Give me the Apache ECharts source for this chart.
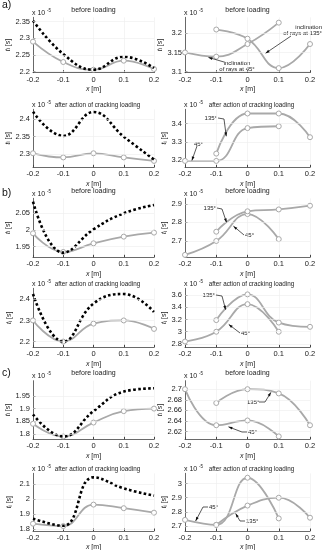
<!DOCTYPE html>
<html><head><meta charset="utf-8">
<script src="https://cdn.jsdelivr.net/npm/echarts@6/dist/echarts.min.js"></script>
<style>html,body{margin:0;padding:0;background:#fff}#c{width:330px;height:550px}</style>
</head><body><div id="c"></div>
<script>
// ---------- data ----------
const xValues = [-0.2, -0.1, 0, 0.1, 0.2];
const panelLetters = ['a)', 'b)', 'c)'];
const titleBefore = 'before loading';
const titleAfter = 'after action of cracking loading';

// a) left (dotted black / grey with markers)
const aBeforeBlack = [2.353, 2.253, 2.206, 2.245, 2.211];
const aBeforeGray  = [2.290, 2.229, 2.206, 2.233, 2.208];
const aAfterBlack  = [2.422, 2.352, 2.421, 2.350, 2.284];
const aAfterGray   = [2.302, 2.290, 2.302, 2.290, 2.280];
// a) right (ray inclination 45 / 135 deg)
const aBefore45  = [3.150, 3.139, 3.172, 3.228, null];
const aBefore135 = [null, 3.210, 3.186, 3.109, 3.172];
const aAfter45   = [3.195, 3.195, 3.375, 3.385, null];
const aAfter135  = [null, 3.235, 3.455, 3.455, 3.325];

// b)
const bBeforeBlack = [2.085, 1.932, 2.002, 2.050, 2.075];
const bBeforeGray  = [1.990, 1.934, 1.960, 1.980, 1.992];
const bAfterBlack  = [2.425, 2.200, 2.380, 2.425, 2.340];
const bAfterGray   = [2.300, 2.200, 2.285, 2.300, 2.260];
const bBefore45  = [2.625, 2.700, 2.845, 2.710, null];
const bBefore135 = [null, 2.750, 2.860, 2.870, 2.890];
const bAfter45   = [2.840, 3.000, 3.450, 3.000, null];
const bAfter135  = [null, 3.190, 3.610, 3.150, 3.080];

// c)
const cBeforeBlack = [1.877, 1.790, 1.890, 1.967, 1.980];
const cBeforeGray  = [1.840, 1.790, 1.845, 1.890, 1.900];
const cAfterBlack  = [1.870, 1.822, 2.147, 2.073, 2.024];
const cAfterGray   = [1.836, 1.820, 1.964, 1.940, 1.910];
const cBefore45  = [2.700, 2.632, 2.641, 2.611, null];
const cBefore135 = [null, 2.674, 2.700, 2.692, 2.632];
const cAfter45   = [2.745, 2.710, 3.040, 2.755, null];
const cAfter135  = [null, 2.710, 2.845, 2.900, 2.760];

// tick labels (x 10^-5 s)
const aBeforeLeftTicks  = [2.2, 2.25, 2.3, 2.35];
const aBeforeRightTicks = [3.1, 3.15, 3.2];
const aAfterLeftTicks   = [2.3, 2.35, 2.4];
const aAfterRightTicks  = [3.2, 3.3, 3.4];
const bBeforeLeftTicks  = [1.95, 2, 2.05];
const bBeforeRightTicks = [2.7, 2.8, 2.9];
const bAfterLeftTicks   = [2.2, 2.3, 2.4];
const bAfterRightTicks  = [2.8, 3, 3.2, 3.4, 3.6];
const cBeforeLeftTicks  = [1.8, 1.85, 1.9, 1.95];
const cBeforeRightTicks = [2.62, 2.64, 2.66, 2.68, 2.7];
const cAfterLeftTicks   = [1.8, 1.9, 2, 2.1];
const cAfterRightTicks  = [2.7, 2.8, 2.9, 3];

// y ranges
const yRanges = {
  a1L: [2.197, 2.363], a1R: [3.097, 3.242], a2L: [2.2615, 2.429], a2R: [3.16, 3.478],
  b1L: [1.918, 2.095], b1R: [2.612, 2.93], b2L: [2.173, 2.452], b2R: [2.746, 3.709],
  c1L: [1.779, 2.01], c1R: [2.6055, 2.716], c2L: [1.787, 2.174], c2R: [2.667, 3.071]
};

// ---------- layout ----------
const colLeft = [33, 185];
const colWidth = [121, 125];
const rowTop = [17.3, 109.3, 198.3, 288.3, 380.7, 473.3];
const rowBottom = [72.7, 167.3, 257.3, 347.3, 439.3, 531];
const FONT = 'Liberation Sans, Arial, sans-serif';
const GRAY = '#a9a9a9';

const panels = [
  {id:'a1L', row:0, col:0, title:titleBefore, ticks:aBeforeLeftTicks, lines:[['g',aBeforeGray],['k',aBeforeBlack]]},
  {id:'a1R', row:0, col:1, title:titleBefore, ticks:aBeforeRightTicks, lines:[['g',aBefore45],['g',aBefore135]]},
  {id:'a2L', row:1, col:0, title:titleAfter, ticks:aAfterLeftTicks, lines:[['g',aAfterGray],['k',aAfterBlack]]},
  {id:'a2R', row:1, col:1, title:titleAfter, ticks:aAfterRightTicks, lines:[['g',aAfter45],['g',aAfter135]]},
  {id:'b1L', row:2, col:0, title:titleBefore, ticks:bBeforeLeftTicks, lines:[['g',bBeforeGray],['k',bBeforeBlack]]},
  {id:'b1R', row:2, col:1, title:titleBefore, ticks:bBeforeRightTicks, lines:[['g',bBefore45],['g',bBefore135]]},
  {id:'b2L', row:3, col:0, title:titleAfter, ticks:bAfterLeftTicks, lines:[['g',bAfterGray],['k',bAfterBlack]]},
  {id:'b2R', row:3, col:1, title:titleAfter, ticks:bAfterRightTicks, lines:[['g',bAfter45],['g',bAfter135]]},
  {id:'c1L', row:4, col:0, title:titleBefore, ticks:cBeforeLeftTicks, lines:[['g',cBeforeGray],['k',cBeforeBlack]]},
  {id:'c1R', row:4, col:1, title:titleBefore, ticks:cBeforeRightTicks, lines:[['g',cBefore45],['g',cBefore135]]},
  {id:'c2L', row:5, col:0, title:titleAfter, ticks:cAfterLeftTicks, lines:[['g',cAfterGray],['k',cAfterBlack]]},
  {id:'c2R', row:5, col:1, title:titleAfter, ticks:cAfterRightTicks, lines:[['g',cAfter45],['g',cAfter135]]}
];

// annotations: text block position (px), leader points (px), target on curve (data)
const annotations = [
  {id:'a1R', lines:['inclination','of rays at 135°'], x:322, y:27, align:'right', lead:[[291,36]], target:[0.058, 3.148]},
  {id:'a1R', lines:['inclination','of rays at 45°'], x:237, y:63, align:'center', lead:[[224,62]], target:[-0.125, 3.137]},
  {id:'a2R', lines:['135°'], x:217, y:118, align:'right', lead:[[218,118],[224,119]], target:[-0.068, 3.33]},
  {id:'a2R', lines:['45°'], x:203, y:144, align:'right', lead:[[197,146]], target:[-0.178, 3.197]},
  {id:'b1R', lines:['135°'], x:216, y:208, align:'right', lead:[[217,208],[222,209]], target:[-0.067, 2.80]},
  {id:'b1R', lines:['45°'], x:245, y:235, align:'left', lead:[[244,235]], target:[-0.045, 2.78]},
  {id:'b2R', lines:['135°'], x:215, y:295, align:'right', lead:[[216,295],[222,296]], target:[-0.07, 3.36]},
  {id:'b2R', lines:['45°'], x:241, y:333, align:'left', lead:[[240,333]], target:[-0.06, 3.12]},
  {id:'c1R', lines:['135°'], x:247, y:402, align:'left', lead:[[259,402],[265,402]], target:[0.075, 2.694]},
  {id:'c1R', lines:['45°'], x:248, y:432, align:'left', lead:[[247,432],[242,432]], target:[-0.061, 2.629]},
  {id:'c2R', lines:['45°'], x:209, y:507, align:'left', lead:[[208,507],[203,507]], target:[-0.166, 2.737]},
  {id:'c2R', lines:['135°'], x:246, y:521, align:'left', lead:[[245,521],[240,521]], target:[-0.038, 2.79]}
];

// ---------- build ----------
const fmt = v => String(+(+v).toFixed(3));
const grid = [], xAxis = [], yAxis = [], series = [], graphic = [];

panels.forEach((p, i) => {
  const top = rowTop[p.row], bottom = rowBottom[p.row];
  const left = colLeft[p.col], width = colWidth[p.col];
  const yr = yRanges[p.id];
  const isAfter = p.row % 2 === 1;
  grid.push({left, top, width, height: bottom - top, outerBoundsMode: 'none', containLabel: false});
  xAxis.push({
    type: 'value', gridIndex: i, min: -0.2, max: 0.2, interval: 0.1,
    name: '{i|x} [m]', nameLocation: 'middle', nameGap: 13,
    nameTextStyle: {fontSize: 7, fontFamily: FONT, color: '#222', rich: {i: {fontStyle: 'italic', fontSize: 7, fontFamily: FONT}}},
    axisLine: {onZero: false, lineStyle: {color: '#444', width: 0.8}},
    axisTick: {inside: true, length: 2.5, lineStyle: {color: '#444'}},
    axisLabel: {fontSize: 7.5, fontFamily: FONT, color: '#222', margin: 3, formatter: fmt, showMinLabel: true, showMaxLabel: true},
    splitLine: {show: true, lineStyle: {color: '#ececec', width: 0.6}}
  });
  yAxis.push({
    type: 'value', gridIndex: i, min: yr[0], max: yr[1],
    name: '{t|t}{s|i} [s]', nameLocation: 'middle', nameRotate: 90, nameGap: p.col === 0 ? 20 : 16,
    nameTextStyle: {fontSize: 7, fontFamily: FONT, color: '#222', rich: {t: {fontStyle: 'italic', fontSize: 7, fontFamily: FONT}, s: {fontSize: 5, fontFamily: FONT, verticalAlign: 'bottom'}}},
    axisLine: {show: true, onZero: false, lineStyle: {color: '#444', width: 0.8}},
    axisTick: {inside: true, length: 2.5, customValues: p.ticks, lineStyle: {color: '#444'}},
    axisLabel: {fontSize: 7.5, fontFamily: FONT, color: '#222', margin: 3, customValues: p.ticks, formatter: fmt},
    splitLine: {show: false}
  });
  p.lines.forEach(([kind, arr], j) => {
    const data = [];
    xValues.forEach((x, k) => { if (arr[k] != null) data.push([x, arr[k]]); });
    const s = {
      type: 'line', xAxisIndex: i, yAxisIndex: i, data, smooth: 0.45, silent: true, animation: false
    };
    if (kind === 'k') {
      Object.assign(s, {showSymbol: false, symbol: 'none', z: 4,
        lineStyle: {color: '#000', width: 2.6, type: [2.6, 2.4], cap: 'butt'}});
    } else {
      Object.assign(s, {symbol: 'circle', symbolSize: 5, showSymbol: true, z: 3,
        lineStyle: {color: GRAY, width: 1.8},
        itemStyle: {color: '#fff', borderColor: GRAY, borderWidth: 1}});
    }
    if (j === 0) {
      s.markLine = {silent: true, symbol: 'none', label: {show: false}, animation: false,
        lineStyle: {color: '#ececec', width: 0.6, type: 'solid'},
        data: p.ticks.map(v => ({yAxis: v}))};
    }
    series.push(s);
  });
  // title
  graphic.push({type: 'text', x: left + width / 2 + (isAfter ? 4 : 0), y: top - (isAfter ? 4.5 : 7.5),
    style: {text: p.title, fontSize: isAfter ? 6.3 : 7, fontFamily: FONT, fill: '#222', align: 'center', verticalAlign: 'middle'}});
  // exponent
  graphic.push({type: 'text', x: left - 1, y: top - 4.5,
    style: {text: 'x 10', fontSize: 7, fontFamily: FONT, fill: '#222', align: 'left', verticalAlign: 'middle'}});
  graphic.push({type: 'text', x: left + 14, y: top - 7,
    style: {text: '-5', fontSize: 4.5, fontFamily: FONT, fill: '#222', align: 'left', verticalAlign: 'middle'}});
});

// panel letters
[[2, 5], [2, 193], [2, 373]].forEach((pos, i) => {
  graphic.push({type: 'text', x: pos[0], y: pos[1],
    style: {text: panelLetters[i], fontSize: 10.5, fontFamily: FONT, fill: '#111', align: 'left', verticalAlign: 'middle'}});
});

const chart = echarts.init(document.getElementById('c'), null, {renderer: 'canvas', width: 330, height: 550});
chart.setOption({animation: false, backgroundColor: '#fff', grid, xAxis, yAxis, series, graphic});

// annotations with leader arrows
const extra = [];
annotations.forEach(a => {
  const gi = panels.findIndex(p => p.id === a.id);
  const tp = chart.convertToPixel({gridIndex: gi}, a.target);
  a.lines.forEach((t, k) => {
    extra.push({type: 'text', x: a.x, y: a.y + k * 6.5,
      style: {text: t, fontSize: 6, fontFamily: FONT, fill: '#222', align: a.align, verticalAlign: 'middle'}});
  });
  const pts = a.lead.concat([tp]);
  extra.push({type: 'polyline', shape: {points: pts}, style: {stroke: '#111', lineWidth: 0.7, fill: null}, z: 10});
  const prev = pts[pts.length - 2];
  const dx = tp[0] - prev[0], dy = tp[1] - prev[1];
  const L = Math.hypot(dx, dy) || 1;
  const ux = dx / L, uy = dy / L;
  const bx = tp[0] - ux * 4, by = tp[1] - uy * 4;
  extra.push({type: 'polygon', shape: {points: [tp, [bx - uy * 1.4, by + ux * 1.4], [bx + uy * 1.4, by - ux * 1.4]]},
    style: {fill: '#111'}, z: 10});
});
chart.setOption({graphic: graphic.concat(extra)});
</script>
</body></html>
